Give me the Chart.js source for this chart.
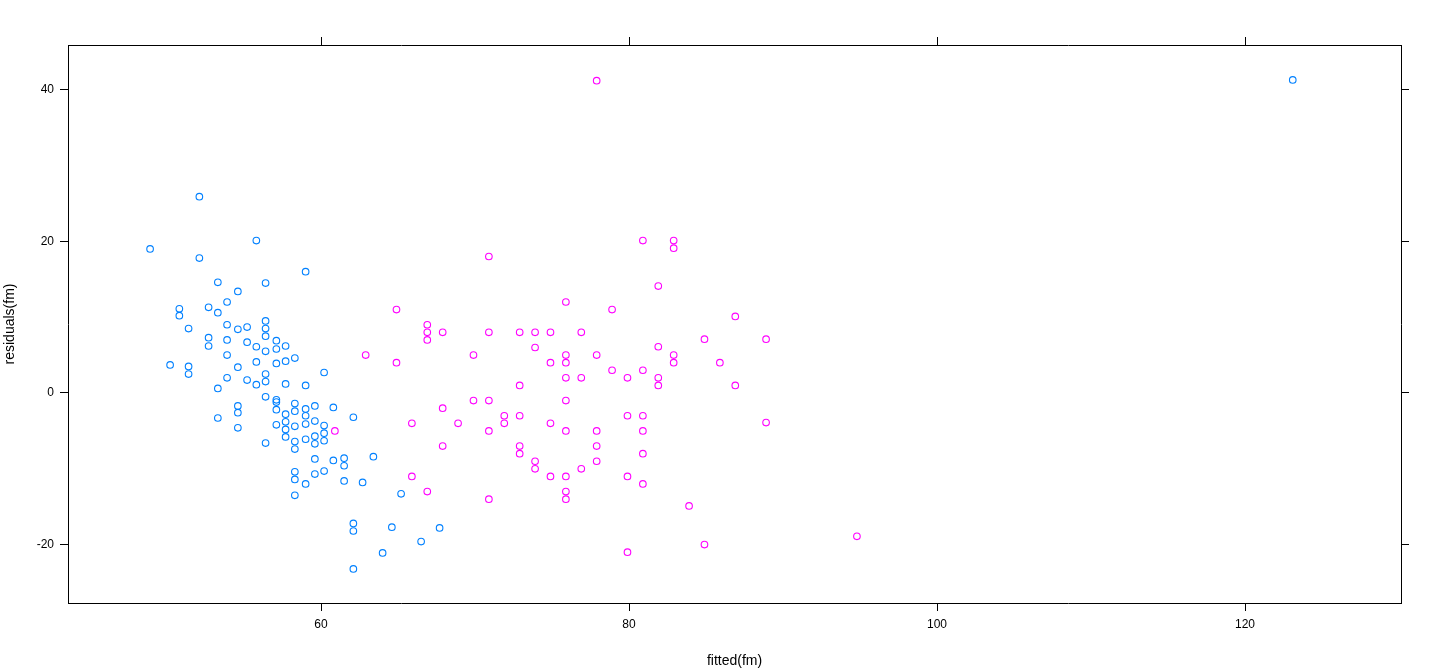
<!DOCTYPE html>
<html>
<head>
<meta charset="utf-8">
<script src="https://cdn.jsdelivr.net/npm/chart.js@4/dist/chart.umd.min.js"></script>
<style>
  html, body { margin: 0; padding: 0; background: #fff; }
  #wrap { width: 1440px; height: 672px; }
</style>
</head>
<body>
<div id="wrap"><canvas id="resid"></canvas></div>
<script>
// group 1 (blue): fitted, residual
const blueFitted = [48.9,52.1,55.8,52.1,59.0,53.3,56.4,54.6,53.9,50.8,50.8,52.7,53.3,51.4,53.9,54.6,55.2,56.4,56.4,56.4,
  52.7,52.7,53.9,55.2,55.8,56.4,57.1,57.1,57.7,53.9,54.6,55.8,57.1,57.7,58.3,60.2,50.2,51.4,51.4,53.9,
  55.2,55.8,56.4,56.4,57.7,59.0,53.3,56.4,57.1,54.6,54.6,54.6,57.1,57.1,57.7,58.3,58.3,59.0,59.0,59.6,
  60.8,57.1,57.7,57.7,57.7,58.3,59.0,59.6,60.2,60.2,59.6,59.6,59.0,58.3,58.3,60.2,56.4,62.1,59.6,60.8,
  61.5,61.5,63.4,58.3,58.3,59.6,60.2,59.0,61.5,62.7,58.3,65.2,62.1,62.1,64.6,67.7,66.5,64.0,62.1,53.3,123.1];
const blueResid = [19.0,25.9,20.1,17.8,16.0,14.6,14.5,13.4,12.0,11.1,10.2,11.3,10.6,8.5,9.0,8.4,8.7,9.5,8.5,7.5,
  7.3,6.2,7.0,6.7,6.1,5.5,6.9,5.8,6.2,5.0,3.4,4.1,3.9,4.2,4.6,2.7,3.7,3.5,2.5,2.0,
  1.7,1.1,2.5,1.5,1.2,1.0,0.6,-0.5,-0.9,-1.7,-2.6,-4.6,-1.2,-2.2,-2.8,-1.4,-2.4,-2.1,-3.0,-1.7,
  -1.9,-4.2,-3.8,-4.8,-5.8,-4.4,-4.1,-3.7,-4.3,-5.3,-5.7,-6.7,-6.1,-6.4,-7.4,-6.3,-6.6,-3.2,-8.7,-8.9,
  -8.6,-9.6,-8.4,-10.4,-11.4,-10.7,-10.3,-12.0,-11.6,-11.8,-13.5,-13.3,-17.2,-18.2,-17.7,-17.8,-19.6,-21.1,-23.2,-3.3,41.3];

// group 2 (magenta)
const pinkFitted = [70.9,64.9,66.9,66.9,66.9,67.9,70.9,72.9,73.9,74.9,73.9,62.9,64.9,69.9,74.9,72.9,69.9,70.9,67.9,71.9,
  71.9,72.9,65.9,68.9,70.9,74.9,60.9,67.9,72.9,72.9,73.9,73.9,74.9,65.9,66.9,70.9,
  80.9,82.9,82.9,81.9,75.9,78.9,86.9,76.9,84.9,88.9,81.9,75.9,77.9,82.9,75.9,82.9,85.9,78.9,80.9,75.9,
  76.9,79.9,81.9,81.9,86.9,75.9,79.9,80.9,88.9,75.9,77.9,80.9,77.9,80.9,77.9,76.9,75.9,79.9,80.9,75.9,
  75.9,83.9,84.9,79.9,94.8,77.9];
const pinkResid = [18.0,11.0,9.0,8.0,7.0,8.0,8.0,8.0,8.0,8.0,6.0,5.0,4.0,5.0,4.0,1.0,-1.0,-1.0,-2.0,-3.0,
  -4.0,-3.0,-4.0,-4.0,-5.0,-4.0,-5.0,-7.0,-7.0,-8.0,-9.0,-10.0,-11.0,-11.0,-13.0,-14.0,
  20.1,20.1,19.1,14.1,12.0,11.0,10.1,8.0,7.1,7.1,6.1,5.0,5.0,5.0,4.0,4.0,4.0,3.0,3.0,2.0,
  2.0,2.0,2.0,1.0,1.0,-1.0,-3.0,-3.0,-3.9,-5.0,-5.0,-5.0,-7.0,-8.0,-9.0,-10.0,-11.0,-11.0,-12.0,-13.0,
  -14.0,-14.9,-20.0,-21.0,-18.9,41.2];

const xTicks = [60, 80, 100, 120];
const yTicks = [-20, 0, 20, 40];

function toPoints(xs, ys) {
  return xs.map((x, i) => ({ x: x, y: ys[i] }));
}

const font = { family: 'Liberation Sans, Arial, sans-serif', size: 12 };

function axis(pos, min, max, ticks, showLabels, fit, title) {
  return {
    type: 'linear',
    position: pos,
    min: min,
    max: max,
    afterBuildTicks: s => { s.ticks = ticks.map(v => ({ value: v })); },
    afterFit: s => { if (pos === 'left' || pos === 'right') s.width = fit; else s.height = fit; },
    ticks: { display: showLabels, color: '#000', font: font, padding: 6, maxRotation: 0 },
    grid: { drawOnChartArea: false, drawTicks: true, tickLength: 8, tickColor: '#000', lineWidth: 1 },
    border: { display: true, color: '#000', width: 1 },
    title: title ? { display: true, text: title, color: '#000', font: { family: font.family, size: 14 }, padding: 2 } : { display: false }
  };
}

new Chart(document.getElementById('resid').getContext('2d'), {
  type: 'scatter',
  data: {
    datasets: [
      { data: toPoints(blueFitted, blueResid), borderColor: '#0080ff', backgroundColor: 'rgba(0,0,0,0)',
        pointRadius: 3.3, pointBorderWidth: 1.1, pointHoverRadius: 3.3 },
      { data: toPoints(pinkFitted, pinkResid), borderColor: '#ff00ff', backgroundColor: 'rgba(0,0,0,0)',
        pointRadius: 3.3, pointBorderWidth: 1.1, pointHoverRadius: 3.3 }
    ]
  },
  options: {
    responsive: true,
    maintainAspectRatio: false,
    animation: false,
    layout: { padding: 0 },
    plugins: { legend: { display: false }, tooltip: { enabled: false } },
    scales: {
      x: axis('bottom', 43.57, 130.13, xTicks, true, 69, 'fitted(fm)'),
      x2: axis('top', 43.57, 130.13, xTicks, false, 45),
      y: axis('left', -27.7, 45.9, yTicks, true, 68, 'residuals(fm)'),
      y2: axis('right', -27.7, 45.9, yTicks, false, 39)
    }
  }
});
</script>
</body>
</html>
